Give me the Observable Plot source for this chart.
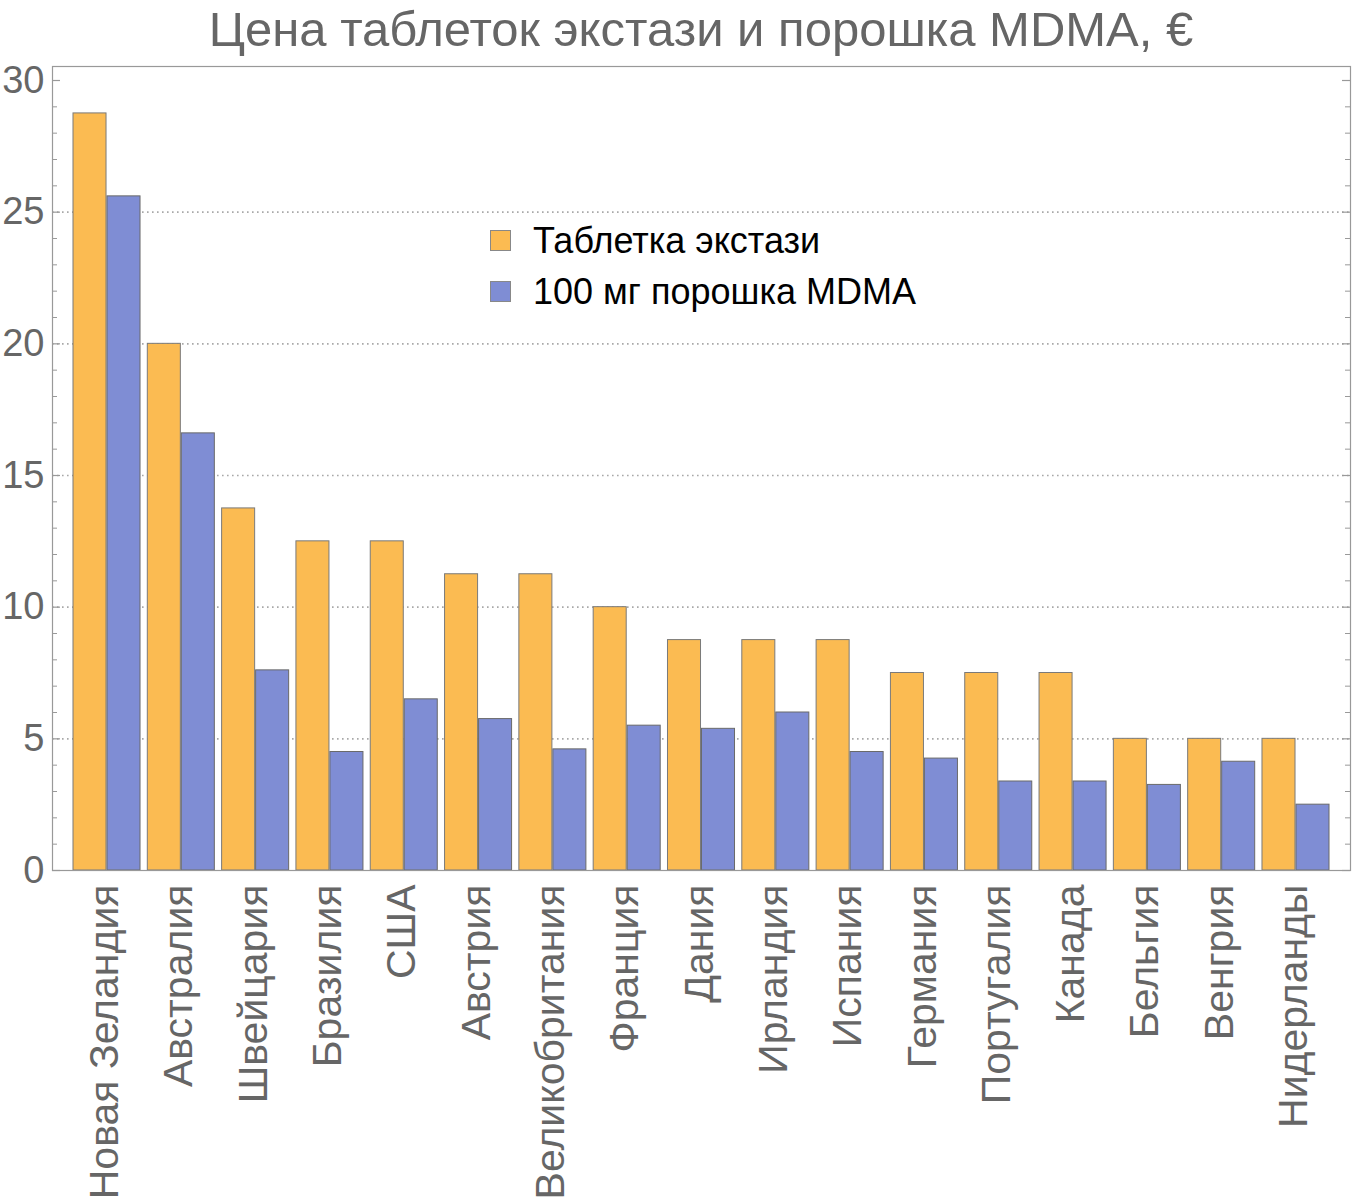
<!DOCTYPE html>
<html><head><meta charset="utf-8">
<script src="https://cdn.jsdelivr.net/npm/d3@7"></script>
<script src="https://cdn.jsdelivr.net/npm/@observablehq/plot@0.6"></script>
<style>
body{margin:0;background:#fff;font-family:"Liberation Sans",Arial,sans-serif;}
#wrap{position:relative;width:1353px;height:1198px;overflow:hidden;}
#title{height:60px;box-sizing:border-box;padding-left:52px;padding-right:3px;text-align:center;font-size:49px;color:#666;line-height:58px;white-space:nowrap;}
#legend{position:absolute;left:490px;top:215px;font-size:36px;color:#000;}
.item{display:flex;align-items:center;height:51px;}
.sw{width:19px;height:19px;border:1px solid #888;margin-right:22px;}
</style></head>
<body><div id="wrap"><div id="title"></div><div id="chart"></div><div id="legend"></div></div>
<script>
const titleText = "Цена таблеток экстази и порошка MDMA, €";
const countries = ["Новая Зеландия","Австралия","Швейцария","Бразилия","США","Австрия","Великобритания","Франция","Дания","Ирландия","Испания","Германия","Португалия","Канада","Бельгия","Венгрия","Нидерланды"];
const ecstasy = [28.75, 20, 13.75, 12.5, 12.5, 11.25, 11.25, 10, 8.75, 8.75, 8.75, 7.5, 7.5, 7.5, 5, 5, 5];
const mdma = [25.6, 16.6, 7.6, 4.5, 6.5, 5.75, 4.6, 5.5, 5.38, 6.0, 4.5, 4.25, 3.38, 3.38, 3.25, 4.13, 2.5];
const seriesNames = ["Таблетка экстази", "100 мг порошка MDMA"];
const seriesColors = ["#FBBB52", "#7F8DD4"];
const yTicks = [0, 5, 10, 15, 20, 25, 30];
const gridTicks = [5, 10, 15, 20, 25];
const minorTicks = [1,2,3,4,6,7,8,9,11,12,13,14,16,17,18,19,21,22,23,24,26,27,28,29];

const table = countries.map((c, i) => ({country: c, ecstasy: ecstasy[i], mdma: mdma[i]}));

document.getElementById("title").textContent = titleText;

const W = 1353, H = 1138, ML = 52, MR = 3, MT = 6, MB = 328;
const inner = W - ML - MR;

const chart = Plot.plot({
  width: W,
  height: H,
  marginLeft: ML,
  marginRight: MR,
  marginTop: MT,
  marginBottom: MB,
  style: {fontFamily: "Liberation Sans, Arial, sans-serif", background: "white", overflow: "visible"},
  x: {domain: countries, paddingInner: 0.098, paddingOuter: 0.2825, round: false, axis: null},
  y: {domain: [0, 30], range: [H - MB, MT + 14], axis: null},
  marks: [
    Plot.ruleY(gridTicks, {stroke: "#a8a8a8", strokeWidth: 1.6, strokeDasharray: "1.6,3.4"}),
    Plot.barY(table, {x: "country", y: "ecstasy", fill: seriesColors[0], stroke: "#7a7a7a", strokeWidth: 1, insetRight: 34}),
    Plot.barY(table, {x: "country", y: "mdma", fill: seriesColors[1], stroke: "#6a6a6a", strokeWidth: 1, insetLeft: 34}),
    Plot.ruleY(yTicks, {stroke: "#999", strokeWidth: 1.2, insetRight: inner - 8}),
    Plot.ruleY(minorTicks, {stroke: "#999", strokeWidth: 1, insetRight: inner - 5}),
    Plot.ruleY(yTicks, {stroke: "#999", strokeWidth: 1.2, insetLeft: inner - 8}),
    Plot.ruleY(minorTicks, {stroke: "#999", strokeWidth: 1, insetLeft: inner - 5}),
    Plot.frame({stroke: "#999", strokeWidth: 1.2}),
    Plot.axisY(yTicks, {tickSize: 0, tickPadding: 8, fontSize: 38, fill: "#666", label: null}),
    Plot.axisX({tickSize: 0, tickPadding: 14, tickRotate: -90, fontSize: 41, fill: "#666", label: null, dx: -2})
  ]
});
document.getElementById("chart").appendChild(chart);

const legend = document.getElementById("legend");
seriesNames.forEach((name, i) => {
  const item = document.createElement("div");
  item.className = "item";
  const sw = document.createElement("div");
  sw.className = "sw";
  sw.style.background = seriesColors[i];
  const t = document.createElement("span");
  t.textContent = name;
  item.appendChild(sw);
  item.appendChild(t);
  legend.appendChild(item);
});
</script>
</body></html>
